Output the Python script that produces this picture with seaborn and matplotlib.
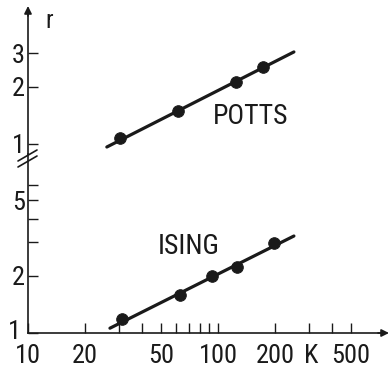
import matplotlib
matplotlib.use('Agg')
import numpy as np
import pandas as pd
import matplotlib.pyplot as plt
import matplotlib.font_manager as fm
import seaborn as sns
from matplotlib.lines import Line2D
from matplotlib.patches import FancyArrowPatch
from matplotlib.ticker import NullFormatter, NullLocator

sns.set_theme(style='white')

# narrow lettering like the original; use what is installed
entries = [(f.name, f.stretch) for f in fm.fontManager.ttflist]
names = {n for n, _ in entries}
family, stretch, scale = 'DejaVu Sans', 'normal', 0.8
if 'Liberation Sans Narrow' in names:
    family, stretch, scale = 'Liberation Sans Narrow', 'normal', 1.0
elif 'Roboto Condensed' in names:
    family, stretch, scale = 'Roboto Condensed', 'normal', 1.0
elif ('DejaVu Sans', 'condensed') in entries or ('DejaVu Sans', 'semi-condensed') in entries:
    family, stretch, scale = 'DejaVu Sans', 'condensed', 0.9
elif ('Noto Sans', 'condensed') in entries:
    family, stretch, scale = 'Noto Sans', 'condensed', 0.95
plt.rcParams['font.family'] = [family, 'DejaVu Sans']
plt.rcParams['font.stretch'] = stretch
for key in ['text.color', 'axes.labelcolor', 'xtick.color', 'ytick.color']:
    plt.rcParams[key] = 'k'

# data
potts_k = [30.5, 61.6, 124, 172]
potts_r = [1.075, 1.49, 2.12, 2.54]
ising_k = [31.2, 63.1, 93, 126, 197]
ising_r = [1.185, 1.585, 2.0, 2.22, 2.98]

# end points of the straight lines through the points
potts_fit_k = [26, 251]
potts_fit_r = [0.964, 3.05]
ising_fit_k = [27, 251]
ising_fit_r = [1.06, 3.24]

x_major = [10, 20, 50, 100, 200, 500]
x_minor = [30, 40, 60, 70, 80, 90, 300, 400]
lo_major = [1, 2, 5]
lo_minor = [3, 4, 6]
hi_major = [1, 2, 3]

tick_fs = 19 * scale
text_fs = 20 * scale

W, H = 390, 368
fig = plt.figure(figsize=(W / 100, H / 100), dpi=100)
ax_lo = fig.add_axes([28 / W, 35 / H, 355 / W, 179.5 / H])
ax_hi = fig.add_axes([28 / W, (H - 153.5) / H, 355 / W, 139.5 / H])

for ax in (ax_lo, ax_hi):
    ax.set_xscale('log')
    ax.set_yscale('log')
    ax.set_xlim(10, 739)
    ax.set_facecolor('none')
    ax.grid(False)
    for s in ['top', 'right']:
        ax.spines[s].set_visible(False)
    for s in ['left', 'bottom']:
        ax.spines[s].set_color('k')
        ax.spines[s].set_linewidth(1.2)
    ax.tick_params(which='both', direction='in', length=7, width=1, colors='k',
                   labelsize=tick_fs, left=True, bottom=True)
    ax.tick_params(axis='y', pad=2)

ax_lo.set_ylim(1, 8.81)
ax_hi.set_ylim(0.891, 4.83)
ax_hi.spines['bottom'].set_visible(False)

# lower part: Ising
sns.lineplot(x=ising_fit_k, y=ising_fit_r, ax=ax_lo, color='k', lw=2.3)
sns.scatterplot(x=ising_k, y=ising_r, ax=ax_lo, color='k', s=70, edgecolor='k', zorder=3)
# upper part: Potts
sns.lineplot(x=potts_fit_k, y=potts_fit_r, ax=ax_hi, color='k', lw=2.3)
sns.scatterplot(x=potts_k, y=potts_r, ax=ax_hi, color='k', s=70, edgecolor='k', zorder=3)

ax_lo.set_xticks(x_major, labels=[str(v) for v in x_major])
ax_lo.set_xticks(x_minor, minor=True)
ax_lo.xaxis.set_minor_formatter(NullFormatter())
ax_lo.tick_params(axis='x', pad=8)
# the "1" at the corner sits a little further left, drawn separately below
ax_lo.set_yticks(lo_major, labels=[''] + [str(v) for v in lo_major[1:]])
ax_lo.set_yticks(lo_minor, minor=True)
ax_lo.yaxis.set_minor_formatter(NullFormatter())
fig.text(21 / W, 1 - 332 / H, str(lo_major[0]), ha='right', va='center', fontsize=tick_fs)

ax_hi.set_yticks(hi_major, labels=[str(v) for v in hi_major])
ax_hi.yaxis.set_minor_locator(NullLocator())
ax_hi.xaxis.set_major_locator(NullLocator())
ax_hi.xaxis.set_minor_locator(NullLocator())

# axis arrows
arrow = dict(arrowstyle='-|>', color='k', lw=1.2, mutation_scale=11, shrinkA=0, shrinkB=0)
fig.add_artist(FancyArrowPatch((28 / W, 1 - 16 / H), (28 / W, 1 - 6 / H),
                               transform=fig.transFigure, **arrow))
fig.add_artist(FancyArrowPatch((378 / W, 1 - 333 / H), (389 / W, 1 - 333 / H),
                               transform=fig.transFigure, **arrow))

# axis break marks
for y0 in (161, 167):
    fig.add_artist(Line2D([18 / W, 37 / W], [1 - y0 / H, 1 - (y0 - 11) / H], color='k', lw=1.2))

fig.text(251 / W, 1 - 117 / H, 'POTTS', ha='center', va='center', fontsize=text_fs)
fig.text(189 / W, 1 - 247 / H, 'ISING', ha='center', va='center', fontsize=text_fs)
fig.text(311 / W, 1 - 356 / H, 'K', ha='center', va='center', fontsize=19 * scale)
fig.text(49 / W, 1 - 21 / H, 'r', ha='center', va='center', fontsize=18 * scale)

fig.savefig('out.png', dpi=100)
